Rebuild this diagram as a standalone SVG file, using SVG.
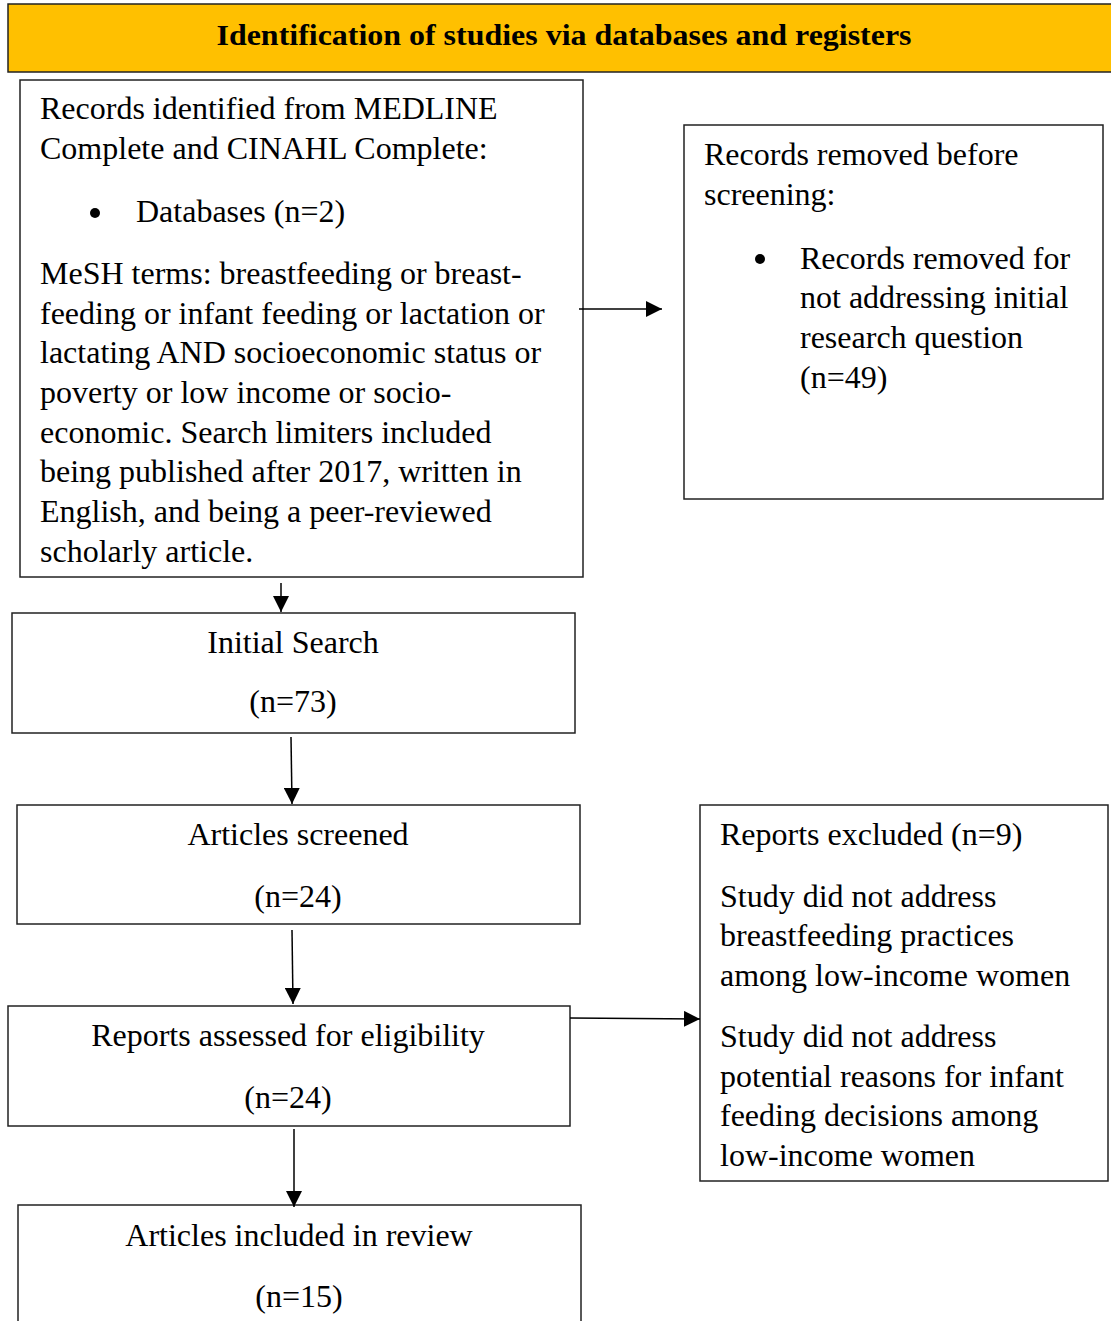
<svg xmlns="http://www.w3.org/2000/svg" width="1111" height="1321" viewBox="0 0 1111 1321">
<defs>
<marker id="ahs" markerWidth="16" markerHeight="16" refX="16" refY="8" orient="auto" markerUnits="userSpaceOnUse" viewBox="0 0 16 16">
<path d="M0,0 L16,8 L0,16 z" fill="#000"/>
</marker>
</defs>
<style>
.box{fill:#fff;stroke:#222;stroke-width:1.5}
.t{font-family:"Liberation Serif","Times New Roman",serif;font-size:32px;fill:#000}
.c{text-anchor:middle}
.h{font-family:"Liberation Serif","Times New Roman",serif;font-size:30px;font-weight:bold;fill:#000}
.ln{stroke:#000;stroke-width:1.5;fill:none}
</style>
<rect width="1111" height="1321" fill="#fff"/>
<g id="header">
<rect x="8" y="4" width="1110" height="68" fill="#FFC000" stroke="#222" stroke-width="1.5"/>
<text class="h c" x="564" y="45" textLength="695" lengthAdjust="spacingAndGlyphs">Identification of studies via databases and registers</text>
</g>
<g id="records-identified">
<rect class="box" x="20" y="80" width="563" height="497"/>
<text class="t" x="40" y="119">Records identified from MEDLINE</text>
<text class="t" x="40" y="159">Complete and CINAHL Complete:</text>
<circle cx="95" cy="213" r="5"/>
<text class="t" x="136" y="222">Databases (n=2)</text>
<text class="t" x="40" y="284">MeSH terms: breastfeeding or breast-</text>
<text class="t" x="40" y="324">feeding or infant feeding or lactation or</text>
<text class="t" x="40" y="363">lactating AND socioeconomic status or</text>
<text class="t" x="40" y="403">poverty or low income or socio-</text>
<text class="t" x="40" y="443">economic. Search limiters included</text>
<text class="t" x="40" y="482">being published after 2017, written in</text>
<text class="t" x="40" y="522">English, and being a peer-reviewed</text>
<text class="t" x="40" y="562">scholarly article.</text>
</g>
<g id="records-removed">
<rect class="box" x="684" y="125" width="419" height="374"/>
<text class="t" x="704" y="165">Records removed before</text>
<text class="t" x="704" y="205">screening:</text>
<circle cx="760" cy="259" r="5"/>
<text class="t" x="800" y="269">Records removed for</text>
<text class="t" x="800" y="308">not addressing initial</text>
<text class="t" x="800" y="348">research question</text>
<text class="t" x="800" y="388">(n=49)</text>
</g>
<g id="initial-search">
<rect class="box" x="12" y="613" width="563" height="120"/>
<text class="t c" x="293" y="653">Initial Search</text>
<text class="t c" x="293" y="712">(n=73)</text>
</g>
<g id="articles-screened">
<rect class="box" x="17" y="805" width="563" height="119"/>
<text class="t c" x="298" y="845">Articles screened</text>
<text class="t c" x="298" y="907">(n=24)</text>
</g>
<g id="reports-excluded">
<rect class="box" x="700" y="805" width="408" height="376"/>
<text class="t" x="720" y="845">Reports excluded (n=9)</text>
<text class="t" x="720" y="907">Study did not address</text>
<text class="t" x="720" y="946">breastfeeding practices</text>
<text class="t" x="720" y="986">among low-income women</text>
<text class="t" x="720" y="1047">Study did not address</text>
<text class="t" x="720" y="1087">potential reasons for infant</text>
<text class="t" x="720" y="1126">feeding decisions among</text>
<text class="t" x="720" y="1166">low-income women</text>
</g>
<g id="reports-assessed">
<rect class="box" x="8" y="1006" width="562" height="120"/>
<text class="t c" x="288" y="1046">Reports assessed for eligibility</text>
<text class="t c" x="288" y="1108">(n=24)</text>
</g>
<g id="articles-included">
<rect class="box" x="18" y="1205" width="563" height="130"/>
<text class="t c" x="299" y="1246">Articles included in review</text>
<text class="t c" x="299" y="1307">(n=15)</text>
</g>
<g id="connectors">
<line class="ln" x1="579" y1="309" x2="662" y2="309" marker-end="url(#ahs)"/>
<line class="ln" x1="281" y1="583" x2="281" y2="612" marker-end="url(#ahs)"/>
<line class="ln" x1="291" y1="737" x2="292" y2="804" marker-end="url(#ahs)"/>
<line class="ln" x1="292" y1="930" x2="293" y2="1004" marker-end="url(#ahs)"/>
<line class="ln" x1="570" y1="1018" x2="700" y2="1019" marker-end="url(#ahs)"/>
<line class="ln" x1="294" y1="1129" x2="294" y2="1207" marker-end="url(#ahs)"/>
</g>
</svg>
